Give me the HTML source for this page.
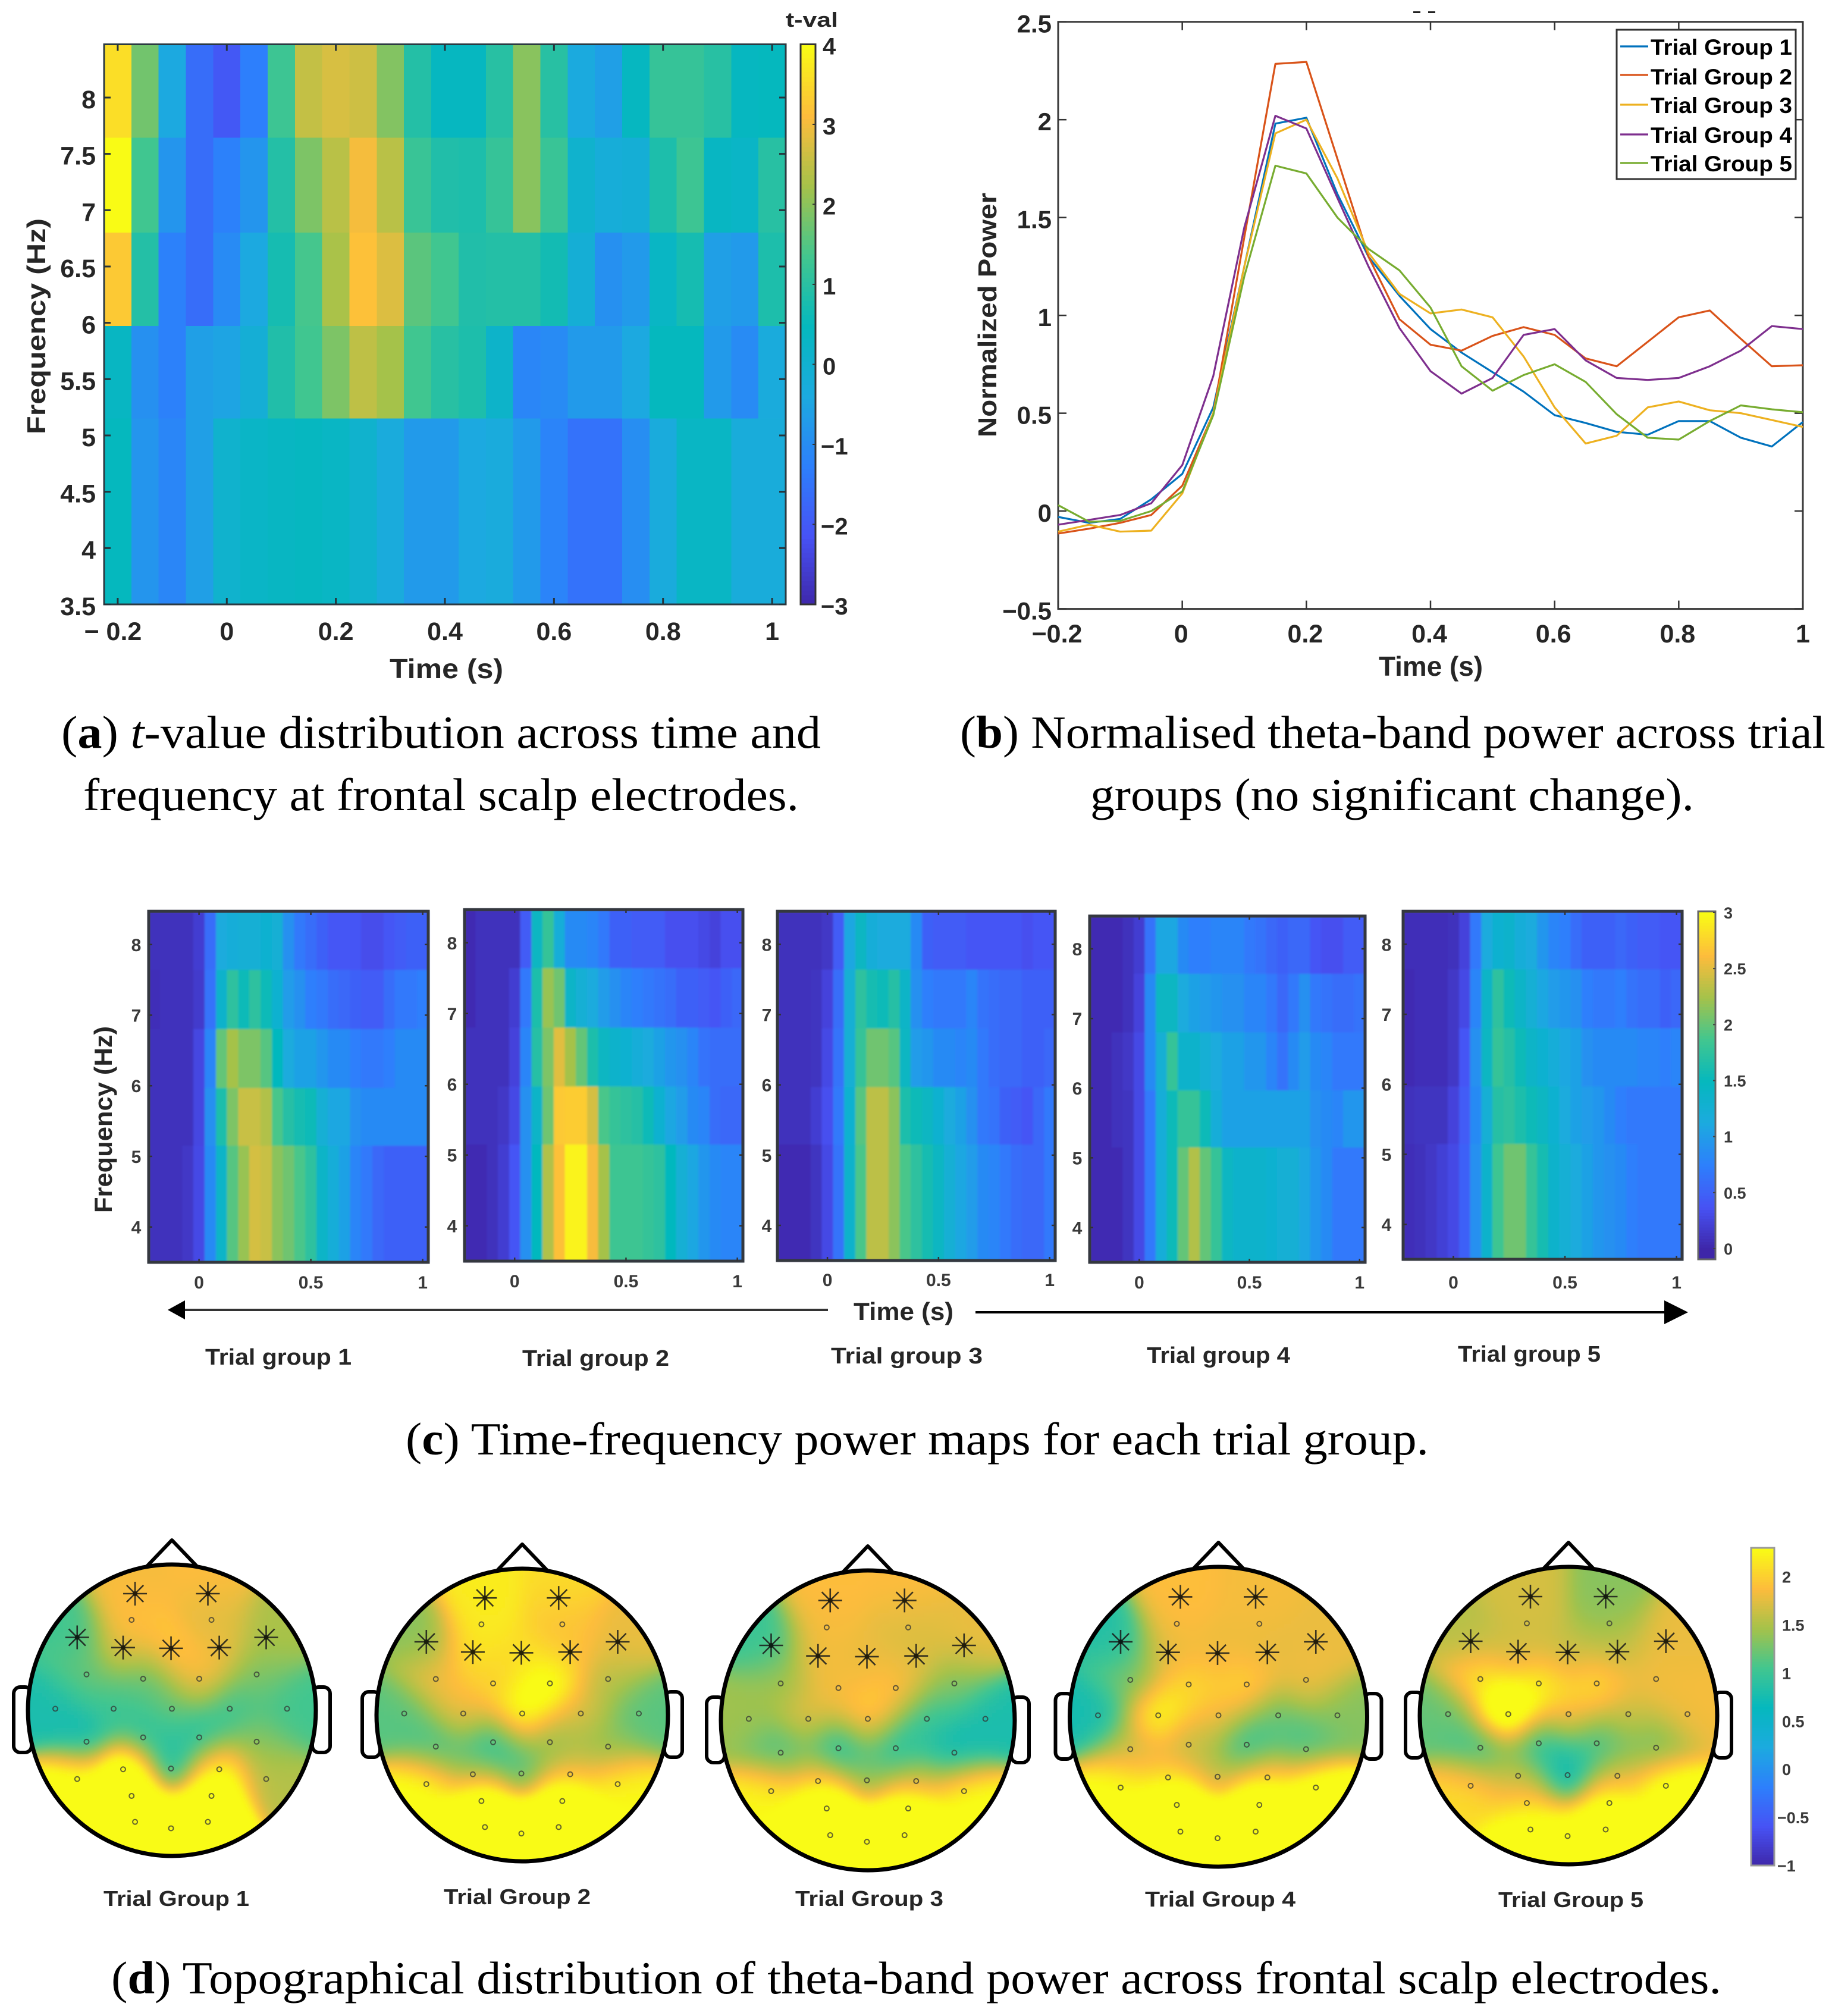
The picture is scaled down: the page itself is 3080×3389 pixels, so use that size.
<!DOCTYPE html>
<html lang="en">
<head>
<meta charset="utf-8">
<title>Theta-band power figure</title>
<style>
html,body{margin:0;padding:0;background:#fff;}
svg{display:block;}
text{font-family:"Liberation Sans",sans-serif;}
.cap{font-family:"Liberation Serif",serif;font-size:77px;fill:#000;}
.cap tspan{font-family:"Liberation Serif",serif;}
.lab{font-weight:bold;fill:#262626;}
</style>
</head>
<body>
<svg id="fig" xmlns="http://www.w3.org/2000/svg" width="3080" height="3389" viewBox="0 0 3080 3389">
<defs>
<filter id="soft" x="-2%" y="-2%" width="104%" height="104%"><feGaussianBlur stdDeviation="1.6"/></filter>
<filter id="softTopo" x="-3%" y="-3%" width="106%" height="106%"><feGaussianBlur stdDeviation="5"/></filter>
</defs>
<rect width="3080" height="3389" fill="#fff"/>
<g id="panelA"></g>
<g id="panelB"></g>
<g id="panelC"></g>
<g id="panelD"></g>

<text class="cap" x="103" y="1257" textLength="1277" lengthAdjust="spacingAndGlyphs">(<tspan font-weight="bold">a</tspan>) <tspan font-style="italic">t</tspan>-value distribution across time and</text>
<text class="cap" x="140" y="1362" textLength="1203" lengthAdjust="spacingAndGlyphs">frequency at frontal scalp electrodes.</text>
<text class="cap" x="1614" y="1257" textLength="1455" lengthAdjust="spacingAndGlyphs">(<tspan font-weight="bold">b</tspan>) Normalised theta-band power across trial</text>
<text class="cap" x="1833" y="1362" textLength="1015" lengthAdjust="spacingAndGlyphs">groups (no significant change).</text>
<text class="cap" x="682" y="2445" textLength="1720" lengthAdjust="spacingAndGlyphs">(<tspan font-weight="bold">c</tspan>) Time-frequency power maps for each trial group.</text>
<text class="cap" x="187" y="3351" textLength="2707" lengthAdjust="spacingAndGlyphs">(<tspan font-weight="bold">d</tspan>) Topographical distribution of theta-band power across frontal scalp electrodes.</text>
</svg>
<script>
/* ---------- shared axis data ---------- */
const timePoints = [-0.2,-0.15,-0.1,-0.05,0,0.05,0.1,0.15,0.2,0.25,0.3,0.35,0.4,0.45,0.5,0.55,0.6,0.65,0.7,0.75,0.8,0.85,0.9,0.95,1];
const freqEdges = [8.47,7.64,6.8,5.97,5.15,3.5];

/* ---------- panel a: t-values ---------- */
const tValRow1 = [3.6,1.8,-0.4,-1.6,-2.0,-1.25,1.3,2.55,2.75,2.65,1.95,0.95,0.45,0.45,1.0,2.0,1.0,-0.35,-0.6,0.45,1.2,1.2,1.0,0.45,0.5];
const tValRow2 = [4.0,1.35,-0.8,-1.6,-1.2,-0.8,0.95,1.9,2.45,3.05,2.45,1.25,0.9,0.85,1.2,2.0,1.25,0.1,-0.2,-0.1,0.85,1.3,0.4,0.3,1.0];
const tValRow3 = [3.3,0.95,-1.2,-1.6,-1.0,-0.4,0.75,1.4,2.3,3.2,2.8,1.6,1.35,0.9,0.95,0.95,0.7,-0.1,-0.9,-0.7,0.35,0.75,-0.6,-0.7,0.85];
const tValRow4 = [0.4,-0.9,-1.2,-0.6,-0.5,-0.1,0.9,1.35,1.9,2.5,2.25,1.35,1.0,0.85,0.2,-1.1,-1.0,-0.7,-0.7,-0.4,0.5,0.5,-0.7,-1.0,-0.3];
const tValRow5 = [0.5,-0.8,-1.1,-0.6,0.1,0.3,0.4,0.45,0.35,0.1,-0.3,-0.7,-0.7,-0.4,-0.3,-0.7,-1.15,-1.5,-1.5,-0.95,-0.3,0.35,0.35,-0.25,-0.25];
const aXTicks = [-0.2,0,0.2,0.4,0.6,0.8,1];
const aXTickLabels = ["\u2212 0.2","0","0.2","0.4","0.6","0.8","1"];
const aYTicks = [3.5,4,4.5,5,5.5,6,6.5,7,7.5,8];
const aYTickLabels = ["3.5","4","4.5","5","5.5","6","6.5","7","7.5","8"];
const aBarTicks = [4,3,2,1,0,-1,-2,-3];
const aBarLabels = ["4","3","2","1","0","\u22121","\u22122","\u22123"];

/* ---------- panel b: normalised power ---------- */
const seriesGroup1 = [-0.03,-0.06,-0.04,0.06,0.19,0.53,1.25,1.98,2.01,1.62,1.3,1.1,0.93,0.81,0.71,0.61,0.49,0.45,0.405,0.39,0.46,0.46,0.375,0.33,0.455];
const seriesGroup2 = [-0.115,-0.09,-0.06,-0.02,0.13,0.5,1.4,2.285,2.295,1.8,1.3,0.98,0.85,0.82,0.895,0.94,0.9,0.78,0.74,0.865,0.99,1.025,0.88,0.74,0.745];
const seriesGroup3 = [-0.105,-0.07,-0.105,-0.1,0.09,0.5,1.25,1.93,2.0,1.7,1.32,1.11,1.01,1.03,0.99,0.79,0.53,0.345,0.385,0.53,0.56,0.515,0.5,0.465,0.43];
const seriesGroup4 = [-0.07,-0.045,-0.02,0.04,0.235,0.69,1.45,2.02,1.955,1.6,1.25,0.935,0.715,0.6,0.68,0.9,0.93,0.77,0.68,0.67,0.68,0.74,0.82,0.945,0.93];
const seriesGroup5 = [0.03,-0.055,-0.05,0,0.1,0.49,1.2,1.765,1.725,1.5,1.34,1.23,1.04,0.74,0.615,0.695,0.75,0.66,0.495,0.375,0.365,0.46,0.54,0.52,0.505];
const seriesNames = ["Trial Group 1","Trial Group 2","Trial Group 3","Trial Group 4","Trial Group 5"];
const bXTicks = [-0.2,0,0.2,0.4,0.6,0.8,1];
const bXTickLabels = ["\u22120.2","0","0.2","0.4","0.6","0.8","1"];
const bYTicks = [-0.5,0,0.5,1,1.5,2,2.5];
const bYTickLabels = ["\u22120.5","0","0.5","1","1.5","2","2.5"];

/* ---------- panel c: trial-group maps (rows top to bottom, freqEdges bins) ---------- */
const powerGroup1 = [
[.1,.1,.1,.1,.2,.6,1.15,1.2,1.25,1.25,1.3,1.25,.9,.7,.6,.5,.42,.42,.4,.33,.33,.42,.45,.5,.5],
[.08,.1,.1,.1,.18,.65,1.35,1.75,1.55,1.75,1.55,1.3,1.0,.9,.75,.7,.6,.55,.5,.45,.45,.6,.7,.7,.75],
[.1,.1,.1,.1,.28,.8,2.0,2.25,2.1,2.1,1.95,1.5,1.15,1.05,1.05,.95,.85,.85,.75,.7,.7,.75,.85,.85,.85],
[.1,.1,.1,.1,.28,.9,1.65,2.1,2.4,2.4,2.3,1.9,1.7,1.6,1.55,1.25,1.1,1.1,.9,.85,.85,.85,.85,.85,.85],
[.1,.1,.1,.15,.3,.85,1.4,1.95,2.2,2.45,2.4,2.15,2.05,1.9,1.75,1.4,1.2,1.05,.8,.7,.55,.5,.5,.5,.5]];
const powerGroup2 = [
[.05,.1,.1,.1,.1,.45,1.45,1.8,1.2,.85,.85,.8,.7,.5,.5,.45,.45,.45,.35,.35,.35,.3,.25,.35,.35],
[.05,.1,.1,.1,.2,.7,1.65,2.2,2.05,1.4,1.25,1.15,1.0,.9,.8,.75,.7,.65,.6,.5,.5,.45,.4,.5,.55],
[.1,.1,.1,.1,.25,.8,1.7,2.1,2.5,2.25,2.0,1.65,1.45,1.35,1.3,1.2,1.15,1.05,.95,.9,.8,.65,.6,.6,.6],
[.1,.1,.1,.15,.3,.9,1.4,2.05,2.7,2.72,2.72,2.45,1.9,1.8,1.75,1.7,1.55,1.3,1.1,1.0,.85,.8,.6,.55,.55],
[.05,.05,.1,.2,.4,.9,1.5,2.3,2.65,2.95,2.95,2.6,2.25,1.85,1.85,1.85,1.8,1.75,1.5,1.25,1.1,.95,.85,.8,.8]];
const powerGroup3 = [
[.1,.1,.1,.1,.15,.45,1.1,1.45,1.2,1.15,1.15,1.15,.85,.5,.45,.45,.45,.4,.4,.4,.4,.4,.35,.4,.4],
[.1,.1,.1,.12,.25,.6,1.25,1.75,1.6,1.55,1.7,1.4,.9,.75,.7,.7,.7,.8,.65,.6,.55,.55,.5,.5,.5],
[.1,.1,.1,.12,.3,.65,1.25,1.8,2.05,2.05,1.95,1.45,1.0,.95,.85,.85,.8,.85,.7,.6,.55,.55,.5,.5,.55],
[.1,.1,.1,.2,.35,.7,1.3,1.95,2.35,2.35,2.15,1.65,1.55,1.45,1.3,1.15,1.05,.9,.7,.65,.5,.45,.4,.55,.7],
[.05,.05,.05,.12,.3,.65,1.35,1.9,2.35,2.35,2.15,1.9,1.75,1.6,1.45,1.25,1.1,1.0,.85,.8,.7,.6,.55,.55,.7]];
const powerGroup4 = [
[.05,.05,.05,.1,.2,.65,1.1,1.1,.85,.75,.75,.8,.8,.8,.7,.65,.55,.5,.55,.55,.4,.35,.35,.45,.45],
[.05,.05,.05,.1,.25,.85,1.45,1.45,1.15,1.05,1.0,.95,.9,.9,.8,.8,.7,.55,.7,.9,.7,.65,.6,.6,.65],
[.05,.05,.1,.15,.3,.85,1.25,1.8,1.35,1.35,1.25,1.15,1.05,1.05,.95,.95,.8,.65,.85,1.0,.85,.8,.7,.7,.7],
[.05,.05,.1,.12,.3,.7,1.2,1.55,1.8,1.8,1.55,1.2,1.05,1.05,1.05,1.05,1.05,1.05,1.05,1.05,.9,.85,.8,.95,.95],
[.05,.05,.05,.12,.3,.7,1.2,1.55,2.0,2.3,2.0,1.8,1.45,1.35,1.35,1.35,1.3,1.25,1.25,1.1,.95,.85,.7,.7,.7]];
const powerGroup5 = [
[.08,.08,.08,.08,.1,.25,.7,1.15,1.3,1.35,1.2,1.15,.95,.8,.75,.6,.5,.5,.5,.55,.5,.45,.45,.4,.4],
[.05,.08,.08,.08,.15,.3,.8,1.4,1.75,1.55,1.4,1.25,1.1,1.0,.95,.9,.75,.7,.7,.75,.65,.6,.6,.5,.55],
[.05,.08,.08,.08,.15,.4,.9,1.45,1.8,1.7,1.55,1.4,1.3,1.2,1.1,1.05,.9,.85,.85,.85,.85,.8,.8,.75,.8],
[.1,.12,.12,.12,.25,.45,.85,1.25,1.7,1.75,1.65,1.55,1.45,1.3,1.15,1.05,1.0,.95,.85,.75,.7,.7,.7,.7,.7],
[.08,.1,.15,.22,.3,.5,.9,1.35,1.85,2.05,2.05,1.8,1.6,1.35,1.25,1.15,1.05,.95,.9,.85,.75,.7,.7,.7,.7]];
const cXTicks = [0,0.5,1];
const cXTickLabels = ["0","0.5","1"];
const cYTicks = [4,5,6,7,8];
const cYTickLabels = ["4","5","6","7","8"];
const cBarTicks = [3,2.5,2,1.5,1,0.5,0];
const cBarLabels = ["3","2.5","2","1.5","1","0.5","0"];
const trialGroupNames = ["Trial group 1","Trial group 2","Trial group 3","Trial group 4","Trial group 5"];

/* ---------- panel d: channel map (unit-head coordinates) and channel power ---------- */
const channelX = [-.256,.25,-.658,-.339,-.006,.329,.655,-.28,.275,-.593,-.2,.19,.589,-.81,-.405,0,.402,.8,-.593,-.2,.19,.589,-.658,-.339,-.006,.329,.655,-.28,.275,-.256,-.006,.25];
const channelY = [-.8,-.8,-.5,-.43,-.425,-.43,-.5,-.62,-.62,-.246,-.216,-.216,-.246,-.01,-.01,-.01,-.01,-.01,.216,.186,.186,.216,.472,.405,.4,.405,.472,.588,.588,.766,.81,.766];
const significantChannels = [0,1,2,3,4,5,6];
const topoGroup1 = [1.85,1.9,1.05,1.8,2.0,1.85,1.5,1.95,1.7,1.2,1.15,1.9,1.3,.8,1.05,1.2,1.0,1.05,.65,.85,.85,1.35,2.6,3.0,.75,2.3,1.55,3.2,2.9,3.2,3.2,3.2];
const topoGroup2 = [2.2,2.1,1.35,2.15,2.1,1.95,1.8,2.2,1.9,1.85,2.0,2.5,1.55,1.15,1.85,2.5,1.7,1.15,1.0,.85,1.35,1.35,2.4,1.25,1.1,1.7,2.3,3.0,3.0,3.2,3.2,3.2];
const topoGroup3 = [1.9,1.9,1.0,1.85,1.8,1.75,1.8,1.85,1.7,1.45,1.85,1.95,1.3,1.45,1.8,2.1,1.0,.8,1.0,.7,.8,.65,2.3,1.9,1.4,1.5,2.4,3.1,2.8,3.2,3.2,3.2];
const topoGroup4 = [1.9,1.85,.85,1.75,1.8,1.75,1.8,1.9,1.85,1.3,2.1,2.1,1.85,.75,2.4,1.9,1.2,1.35,1.6,1.55,.85,1.0,2.4,1.95,1.6,1.9,2.8,3.1,3.1,3.2,3.2,3.2];
const topoGroup5 = [1.7,1.35,1.55,1.65,1.6,1.65,1.8,1.7,1.4,2.2,2.3,2.15,1.85,1.2,3.0,1.95,1.65,1.85,.9,.8,1.0,1.2,2.1,1.6,.6,1.55,2.6,2.0,2.6,2.7,2.4,2.8];
const dBarTicks = [2,1.5,1,0.5,0,-0.5,-1];
const dBarLabels = ["2","1.5","1","0.5","0","\u22120.5","\u22121"];
const topoGroupNames = ["Trial Group 1","Trial Group 2","Trial Group 3","Trial Group 4","Trial Group 5"];

/* ---------- helpers ---------- */
const NS = "http://www.w3.org/2000/svg";
function mk(parent, tag, attrs, name, txt){
  const el = document.createElementNS(NS, tag);
  for (const k in attrs) el.setAttribute(k, attrs[k]);
  
  
  if (txt !== undefined) el.textContent = txt;
  parent.appendChild(el);
  return el;
}
function linear(d0, d1, r0, r1){ return v => r0 + (v - d0) * (r1 - r0) / (d1 - d0); }
const parulaStops = [[62,38,168],[71,82,244],[45,127,252],[28,170,223],[5,184,190],[66,198,143],[165,194,74],[253,188,60],[249,251,21]];
function parula(f){
  f = Math.max(0, Math.min(1, f));
  const p = f * (parulaStops.length - 1), i = Math.min(parulaStops.length - 2, Math.floor(p)), u = p - i;
  const a = parulaStops[i], b = parulaStops[i + 1];
  return "rgb(" + Math.round(a[0] + (b[0] - a[0]) * u) + "," + Math.round(a[1] + (b[1] - a[1]) * u) + "," + Math.round(a[2] + (b[2] - a[2]) * u) + ")";
}
function label(parent, x, y, str, size, anchor, name, opts){
  opts = opts || {};
  const attrs = {x:x, y:y, "font-size":size, "text-anchor":anchor, "font-weight":opts.weight || "bold", fill:opts.fill || "#262626"};
  if (opts.len) { attrs.textLength = opts.len; attrs.lengthAdjust = "spacingAndGlyphs"; }
  if (opts.rotate) attrs.transform = "rotate(-90 " + x + " " + y + ")";
  return mk(parent, "text", attrs, name, str);
}
function heatmap(parent, rows, box, vmin, vmax, name, blur){
  const xs = linear(-0.225, 1.025, box.l, box.r);
  const ys = linear(freqEdges[0], freqEdges[freqEdges.length - 1], box.t, box.b);
  const g = mk(parent, "g", blur ? {filter:"url(#soft)"} : {}, name + "-cells");
  rows.forEach((row, r) => {
    row.forEach((v, c) => {
      const x0 = xs(timePoints[c] - 0.025), x1 = xs(timePoints[c] + 0.025);
      const y0 = ys(freqEdges[r]), y1 = ys(freqEdges[r + 1]);
      mk(g, "rect", {x:x0, y:y0, width:x1 - x0 + 0.6, height:y1 - y0 + 0.6, fill:parula((v - vmin) / (vmax - vmin)), "shape-rendering":"crispEdges"}, name + "-cell");
    });
  });
  return {xs:xs, ys:ys};
}
function frame(parent, box, sw, color, name){
  mk(parent, "rect", {x:box.l, y:box.t, width:box.r - box.l, height:box.b - box.t, fill:"none", stroke:color, "stroke-width":sw}, name);
}
function gradientBar(parent, box, vmin, vmax, cmin, cmax, name){
  const ys = linear(vmax, vmin, box.t, box.b);
  const n = 120;
  for (let i = 0; i < n; i++){
    const v0 = vmax - (vmax - vmin) * i / n;
    const v1 = vmax - (vmax - vmin) * (i + 1) / n;
    mk(parent, "rect", {x:box.l, y:ys(v0), width:box.r - box.l, height:ys(v1) - ys(v0) + 0.8, fill:parula((v0 - cmin) / (cmax - cmin)), "shape-rendering":"crispEdges"}, name + "-step");
  }
  return ys;
}

/* ---------- panel a ---------- */
(function(){
  const p = document.getElementById("panelA");
  const box = {l:175, r:1321, t:74.5, b:1016};
  const tRows = [tValRow1, tValRow2, tValRow3, tValRow4, tValRow5];
  const s = heatmap(p, tRows, box, -3, 4, "t-value-map", false);
  const yAxis = linear(3.5, 8, 1016, 164);
  frame(p, box, 3, "#2b3a42", "t-value-map-frame");
  aXTicks.forEach((t, i) => {
    const x = s.xs(t);
    mk(p, "line", {x1:x, x2:x, y1:box.b, y2:box.b - 11, stroke:"#26333a", "stroke-width":3}, "x-tick");
    mk(p, "line", {x1:x, x2:x, y1:box.t, y2:box.t + 11, stroke:"#26333a", "stroke-width":3}, "x-tick-top");
    label(p, x - (i === 0 ? 8 : 0), 1076, aXTickLabels[i], 43, "middle", "x-tick-label");
  });
  aYTicks.forEach((f, i) => {
    const y = yAxis(f);
    mk(p, "line", {x1:box.l, x2:box.l + 11, y1:y, y2:y, stroke:"#26333a", "stroke-width":3}, "y-tick");
    mk(p, "line", {x1:box.r, x2:box.r - 11, y1:y, y2:y, stroke:"#26333a", "stroke-width":3}, "y-tick-right");
    label(p, 161, y + 18, aYTickLabels[i], 43, "end", "y-tick-label");
  });
  label(p, 76, 730, "Frequency (Hz)", 44, "start", "y-axis-title", {rotate:true, len:363});
  label(p, 655, 1140, "Time (s)", 46, "start", "x-axis-title", {len:191});
  const bar = {l:1346, r:1371, t:74.5, b:1016};
  const ys = gradientBar(p, bar, -3, 4, -3, 4, "t-colorbar");
  frame(p, bar, 3, "#333", "t-colorbar-frame");
  aBarTicks.forEach((v, i) => {
    const y = ys(v);
    mk(p, "line", {x1:bar.r, x2:bar.r - 5, y1:y, y2:y, stroke:"#333", "stroke-width":2}, "t-colorbar-tick");
    label(p, 1383 - (v < 0 ? 3 : 0), y + 17, aBarLabels[i], 40, "start", "t-colorbar-label");
  });
  label(p, 1321, 45, "t-val", 34, "start", "t-colorbar-title", {len:88});
})();

/* ---------- panel b ---------- */
(function(){
  const p = document.getElementById("panelB");
  const box = {l:1779, r:3031, t:36.7, b:1023.6};
  const xs = linear(-0.2, 1, box.l, box.r);
  const ys = linear(-0.5, 2.5, box.b, box.t);
  frame(p, box, 3, "#3a3a3a", "power-plot-frame");
  mk(p, "rect", {x:2376, y:19, width:12, height:3, fill:"#222"}, "title-fragment-left");
  mk(p, "rect", {x:2401, y:19, width:12, height:3, fill:"#222"}, "title-fragment-right");
  bXTicks.forEach((t, i) => {
    const x = xs(t);
    mk(p, "line", {x1:x, x2:x, y1:box.b, y2:box.b - 14, stroke:"#333", "stroke-width":2.5}, "x-tick");
    mk(p, "line", {x1:x, x2:x, y1:box.t, y2:box.t + 14, stroke:"#333", "stroke-width":2.5}, "x-tick-top");
    label(p, x + (i === bXTicks.length - 1 ? 0 : -2), 1080, bXTickLabels[i], 43, "middle", "x-tick-label");
  });
  bYTicks.forEach((v, i) => {
    const y = ys(v);
    mk(p, "line", {x1:box.l, x2:box.l + 14, y1:y, y2:y, stroke:"#333", "stroke-width":2.5}, "y-tick");
    mk(p, "line", {x1:box.r, x2:box.r - 14, y1:y, y2:y, stroke:"#333", "stroke-width":2.5}, "y-tick-right");
    label(p, 1768, y + 18, bYTickLabels[i], 42, "end", "y-tick-label");
  });
  const seriesList = [seriesGroup1, seriesGroup2, seriesGroup3, seriesGroup4, seriesGroup5];
  const colors = ["#0072BD","#D95319","#EDB120","#7E2F8E","#77AC30"];
  seriesList.forEach((series, k) => {
    const pts = series.map((v, i) => xs(timePoints[i]).toFixed(1) + "," + ys(v).toFixed(1)).join(" ");
    mk(p, "polyline", {points:pts, fill:"none", stroke:colors[k], "stroke-width":3.2, "stroke-linejoin":"round"}, "line-trial-group-" + (k + 1));
  });
  mk(p, "rect", {x:2718, y:50, width:301, height:251, fill:"#fff", stroke:"#333", "stroke-width":3}, "legend-box");
  const legendLine = [78, 126, 176, 226, 274];
  const legendBase = [92, 142, 190, 240, 288];
  seriesNames.forEach((n, k) => {
    mk(p, "line", {x1:2724, x2:2771, y1:legendLine[k], y2:legendLine[k], stroke:colors[k], "stroke-width":3.2}, "legend-line-" + (k + 1));
    label(p, 2775, legendBase[k], n, 37, "start", "legend-entry-" + (k + 1), {len:238, fill:"#000"});
  });
  label(p, 1675, 735, "Normalized Power", 44, "start", "y-axis-title", {rotate:true, len:411});
  label(p, 2318, 1136, "Time (s)", 46, "start", "x-axis-title", {len:175});
})();

/* ---------- panel c ---------- */
(function(){
  const p = document.getElementById("panelC");
  const maps = [powerGroup1, powerGroup2, powerGroup3, powerGroup4, powerGroup5];
  const boxes = [
    {l:250, r:720, t:1532, b:2122, lab:229},
    {l:781, r:1249, t:1529, b:2120, lab:760},
    {l:1307, r:1774, t:1532, b:2119, lab:1289},
    {l:1832, r:2295, t:1540, b:2122, lab:1811},
    {l:2359, r:2828, t:1532, b:2117, lab:2331}
  ];
  const groupLabelX = [345, 878, 1397, 1928, 2451];
  const groupLabelW = [246, 247, 255, 241, 240];
  const groupLabelY = [2294, 2296, 2292, 2291, 2289];
  const xLabelY = [2166, 2164, 2162, 2166, 2166];
  maps.forEach((rows, m) => {
    const box = boxes[m];
    const s = heatmap(p, rows, box, 0, 3, "trial-map-" + (m + 1), true);
    frame(p, box, 5, "#34383f", "trial-map-" + (m + 1) + "-frame");
    const yAxis = linear(freqEdges[freqEdges.length - 1], freqEdges[0], box.b, box.t);
    cXTicks.forEach((t, i) => {
      const x = s.xs(t);
      mk(p, "line", {x1:x, x2:x, y1:box.b, y2:box.b - 6, stroke:"#333", "stroke-width":2.5}, "trial-map-x-tick");
      mk(p, "line", {x1:x, x2:x, y1:box.t, y2:box.t + 6, stroke:"#333", "stroke-width":2.5}, "trial-map-x-tick-top");
      label(p, x, xLabelY[m], cXTickLabels[i], 30, "middle", "trial-map-x-tick-label", {fill:"#3a3a3a"});
    });
    cYTicks.forEach((f, i) => {
      const y = yAxis(f);
      mk(p, "line", {x1:box.l, x2:box.l + 6, y1:y, y2:y, stroke:"#333", "stroke-width":2.5}, "trial-map-y-tick");
      mk(p, "line", {x1:box.r, x2:box.r - 6, y1:y, y2:y, stroke:"#333", "stroke-width":2.5}, "trial-map-y-tick-right");
      label(p, box.lab, y + 11, cYTickLabels[i], 30, "middle", "trial-map-y-tick-label", {fill:"#3a3a3a"});
    });
    label(p, groupLabelX[m], groupLabelY[m], trialGroupNames[m], 38, "start", "trial-group-label-" + (m + 1), {len:groupLabelW[m]});
  });
  label(p, 188, 2039, "Frequency (Hz)", 42, "start", "y-axis-title", {rotate:true, len:314});
  const bar = {l:2855, r:2884, t:1532, b:2117};
  const ys = linear(3, 0, 1534, 2099);
  gradientBar(p, bar, -0.1, 3.01, 0, 3, "power-colorbar");
  frame(p, bar, 3, "#666", "power-colorbar-frame");
  cBarTicks.forEach((v, i) => {
    label(p, 2898, ys(v) + 10, cBarLabels[i], 27, "start", "power-colorbar-label", {fill:"#3a3a3a"});
    mk(p, "line", {x1:bar.r - 4, x2:bar.r, y1:ys(v), y2:ys(v), stroke:"#444", "stroke-width":2}, "power-colorbar-tick");
  });
  mk(p, "line", {x1:306, x2:1392, y1:2202, y2:2202, stroke:"#333", "stroke-width":4}, "time-arrow-left-shaft");
  mk(p, "polygon", {points:"282,2202 311,2186 311,2218", fill:"#000"}, "time-arrow-left-head");
  mk(p, "line", {x1:1640, x2:2805, y1:2206, y2:2206, stroke:"#000", "stroke-width":4}, "time-arrow-right-shaft");
  mk(p, "polygon", {points:"2838,2206 2798,2186 2798,2226", fill:"#000"}, "time-arrow-right-head");
  label(p, 1435, 2219, "Time (s)", 42, "start", "time-arrow-label", {len:168});
})();

/* ---------- panel d ---------- */
(function(){
  const p = document.getElementById("panelD");
  const defs = document.querySelector("#fig defs");
  const heads = [
    {cx:289, cy:2875, rx:242, ry:245},
    {cx:878, cy:2883, rx:245, ry:246},
    {cx:1459, cy:2892, rx:247, ry:252},
    {cx:2048.5, cy:2886, rx:250, ry:252},
    {cx:2637, cy:2884, rx:250, ry:250}
  ];
  const topoList = [topoGroup1, topoGroup2, topoGroup3, topoGroup4, topoGroup5];
  const labelX = [174, 746, 1337, 1925, 2519];
  const labelW = [245, 247, 249, 253, 244];
  const labelY = [3204, 3201, 3204, 3205, 3206];
  const sigma = 0.14, step = 6;
  function field(vals, nx, ny){
    let sw = 0, sv = 0;
    for (let i = 0; i < vals.length; i++){
      const dx = nx - channelX[i], dy = ny - channelY[i];
      const w = Math.exp(-(dx * dx + dy * dy) / (2 * sigma * sigma)) + 1e-6 / (1e-4 + dx * dx + dy * dy) * 1e-2;
      sw += w; sv += w * vals[i];
    }
    return sv / sw;
  }
  heads.forEach((h, m) => {
    const group = mk(p, "g", {}, "head-" + (m + 1));
    const clip = mk(defs, "clipPath", {id:"headClip" + m}, "head-clip");
    mk(clip, "ellipse", {cx:h.cx, cy:h.cy, rx:h.rx, ry:h.ry}, "head-clip-shape");
    /* ears and nose behind the scalp */
    mk(group, "rect", {x:h.cx - h.rx - 24, y:h.cy - 39, width:30, height:110, rx:11, fill:"#fff", stroke:"#000", "stroke-width":6}, "left-ear");
    mk(group, "rect", {x:h.cx + h.rx - 6, y:h.cy - 39, width:30, height:110, rx:11, fill:"#fff", stroke:"#000", "stroke-width":6}, "right-ear");
    mk(group, "polygon", {points:(h.cx - 43) + "," + (h.cy - h.ry + 4) + " " + h.cx + "," + (h.cy - h.ry - 41) + " " + (h.cx + 43) + "," + (h.cy - h.ry + 4), fill:"#fff", stroke:"#000", "stroke-width":6, "stroke-linejoin":"round"}, "nose");
    const clipG = mk(group, "g", {"clip-path":"url(#headClip" + m + ")"}, "scalp-map");
    const cells = mk(clipG, "g", {filter:"url(#softTopo)"}, "scalp-map-cells");
    const vals = topoList[m];
    for (let py = h.cy - h.ry - step * 3; py < h.cy + h.ry + step * 3; py += step){
      for (let px = h.cx - h.rx - step * 3; px < h.cx + h.rx + step * 3; px += step){
        const nx = (px + step / 2 - h.cx) / h.rx, ny = (py + step / 2 - h.cy) / h.ry;
        if (nx * nx + ny * ny > 1.2) continue;
        const v = field(vals, nx, ny);
        mk(cells, "rect", {x:px, y:py, width:step + 0.5, height:step + 0.5, fill:parula((v + 1) / 3.3), "shape-rendering":"crispEdges"}, "scalp-cell");
      }
    }
    mk(group, "ellipse", {cx:h.cx, cy:h.cy, rx:h.rx, ry:h.ry, fill:"none", stroke:"#000", "stroke-width":7}, "head-outline");
    channelX.forEach((nx, i) => {
      const ex = h.cx + nx * h.rx, ey = h.cy + channelY[i] * h.ry;
      if (significantChannels.indexOf(i) >= 0){
        const star = mk(group, "g", {opacity:0.85}, "significant-electrode");
        for (let a = 0; a < 4; a++){
          const ang = a * Math.PI / 4;
          const dx = 20 * Math.cos(ang), dy = 20 * Math.sin(ang);
          mk(star, "line", {x1:ex - dx, y1:ey - dy, x2:ex + dx, y2:ey + dy, stroke:"#1a1a1a", "stroke-width":2.6}, "electrode-star-stroke");
        }
        mk(star, "circle", {cx:ex, cy:ey, r:4, fill:"#000"}, "electrode-star-centre");
      } else {
        mk(group, "circle", {cx:ex, cy:ey, r:4, fill:"none", stroke:"#333", "stroke-width":2, opacity:0.75}, "electrode");
      }
    });
    label(group, labelX[m], labelY[m], topoGroupNames[m], 36, "start", "topography-label-" + (m + 1), {len:labelW[m]});
  });
  const bar = {l:2944, r:2983, t:2602, b:3136};
  const ys = gradientBar(p, bar, -1, 2.3, -1, 2.3, "topo-colorbar");
  frame(p, bar, 3, "#999", "topo-colorbar-frame");
  dBarTicks.forEach((v, i) => {
    const x = v < 0 ? 2988 : 2996;
    label(p, x, ys(v) + 10, dBarLabels[i], 27, "start", "topo-colorbar-label", {fill:"#3a3a3a"});
  });
})();
</script>
</body>
</html>
